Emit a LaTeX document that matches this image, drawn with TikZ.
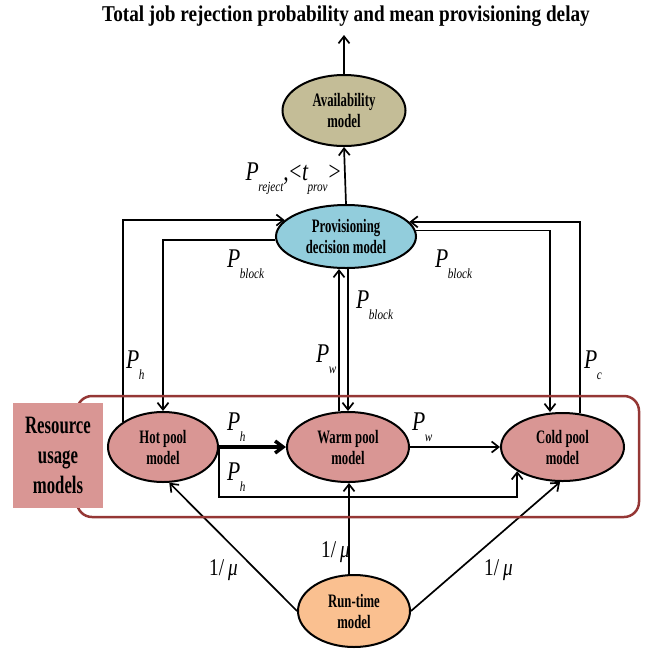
\documentclass[tikz,border=0pt]{standalone}
\usepackage{fontspec}
\setmainfont{Liberation Serif}
\newfontfamily\nodefont{Liberation Serif}[FakeStretch=0.67]
\newfontfamily\titlefont{Liberation Serif}[FakeStretch=0.85]
\newfontfamily\labfont{Liberation Serif}[FakeStretch=0.8]
\usetikzlibrary{shapes.geometric,arrows.meta,calc}
\definecolor{availc}{HTML}{C4BD97}
\definecolor{provc}{HTML}{92CDDC}
\definecolor{poolc}{HTML}{D99694}
\definecolor{runc}{HTML}{FAC090}
\definecolor{grpc}{HTML}{953735}
\newcommand{\Ls}[2]{{\labfont\itshape\fontsize{27}{27}\selectfont #1}\kern-0.5pt\raisebox{-11pt}{\labfont\itshape\fontsize{14}{14}\selectfont #2}}
\newcommand{\Lt}[1]{{\labfont\fontsize{27}{27}\selectfont #1}}
\newcommand{\Mu}{{\labfont\fontsize{24}{24}\selectfont 1/\,\itshape μ}}
\tikzset{
  ell/.style={ellipse, draw, line width=2pt, inner sep=0pt, align=center,
    font=\nodefont\bfseries\fontsize{19}{21}\selectfont},
  arr/.style={line width=1.7pt, -{Straight Barb[length=7pt,width=11pt,line width=1.7pt]}},
  thickarr/.style={line width=4.5pt, -{Straight Barb[length=8pt,width=12pt,line width=3.5pt]}},
  lab/.style={inner sep=0pt, anchor=base west},
}
\begin{document}
\begin{tikzpicture}[x=1pt,y=-1pt]
\useasboundingbox (0,0) rectangle (664,649);
% title
\node[inner sep=0pt, anchor=base] (title) at (346,21)
  {\titlefont\bfseries\fontsize{22.6}{24}\selectfont Total job rejection probability and mean provisioning delay};
\coordinate (top) at (344,35);
% nodes
\node[ell, fill=availc, minimum width=123pt, minimum height=71pt] (avail) at (344,110.5) {Availability\\model};
\node[ell, fill=provc, minimum width=140pt, minimum height=63pt] (prov) at (346,236.5) {Provisioning\\decision model};
\node[ell, fill=poolc, minimum width=110pt, minimum height=70pt] (hot) at (163,447) {Hot pool\\model};
\node[ell, fill=poolc, minimum width=122pt, minimum height=70pt] (warm) at (348,447) {Warm pool\\model};
\node[ell, fill=poolc, minimum width=123pt, minimum height=68pt] (cold) at (562.5,447) {Cold pool\\model};
\node[ell, fill=runc, minimum width=112pt, minimum height=72pt] (run) at (354,611) {Run-time\\model};
% helper coordinates
\coordinate (mL) at (339,0);
\coordinate (mR) at (348,0);
\coordinate (mid) at (349,0);
\coordinate (cR) at (550,0);
\coordinate (bot) at (0,497);
% connectors
\draw[arr] (avail.north) -- (avail.north |- top);
\draw[arr] (prov.north) -- (avail.south);
\draw[arr] (hot.148) |- (prov.165.7);
\draw[arr] (prov.183.7) -| (hot.north);
\draw[arr] (cold.63.3) |- (prov.13.1);
\draw[arr] (prov.5.4) -| (cold.north -| cR);
\draw[arr] (warm.north -| mL) -- (prov.south -| mL);
\draw[arr] (prov.south -| mR) -- (warm.north -| mR);
\draw[thickarr] (hot.east) -- (warm.west);
\draw[arr] (warm.east) -- (cold.west);
\draw[arr] (hot.east) |- (cold.208 |- bot) -- (cold.208);
\draw[arr] (run.west) -- (hot.-80);
\draw[arr] (run.north -| mid) -- (warm.south -| mid);
\draw[arr] (run.east) -- (cold.-94);
% group
\draw[grpc, line width=2.5pt, rounded corners=15pt] (77,396) rectangle (639,517);
\node[fill=poolc, minimum width=90pt, minimum height=105pt, inner sep=0pt, align=center,
  font=\nodefont\bfseries\fontsize{25}{30}\selectfont] (res) at (58,455.5) {Resource\\usage\\models};
% labels
\node[lab, anchor=base east] (lrej) at (341,180) {\Ls{P}{reject}\Lt{,}\kern0.5pt\Lt{<}\kern0.5pt\Ls{t}{prov}\kern1pt\Lt{>}};
\node[lab] (lb1) at (227,267) {\Ls{P}{block}};
\node[lab] (lb2) at (435,267) {\Ls{P}{block}};
\node[lab] (lb3) at (356,308) {\Ls{P}{block}};
\node[lab] (lw1) at (316,362) {\Ls{P}{w}};
\node[lab] (lh1) at (126,368) {\Ls{P}{h}};
\node[lab] (lc) at (584,368) {\Ls{P}{c}};
\node[lab] (lh2) at (227,430) {\Ls{P}{h}};
\node[lab] (lh3) at (227,480) {\Ls{P}{h}};
\node[lab] (lw2) at (412,430) {\Ls{P}{w}};
\node[lab] (mu1) at (209,575) {\Mu};
\node[lab] (mu2) at (321,557) {\Mu};
\node[lab] (mu3) at (484,575) {\Mu};
\end{tikzpicture}
\end{document}
